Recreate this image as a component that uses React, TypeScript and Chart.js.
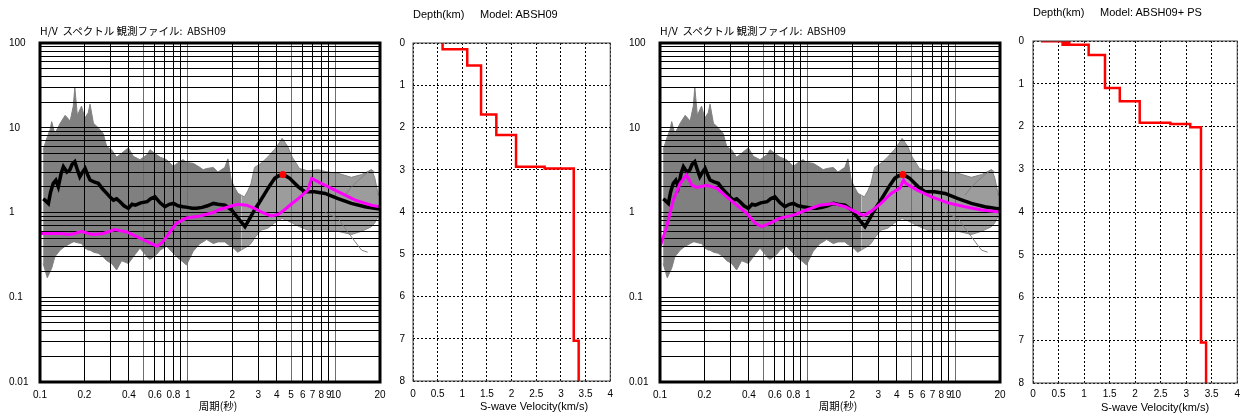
import React, { useEffect, useRef } from 'react';
import { Chart, registerables } from 'chart.js';
Chart.register(...registerables);

// ---------------- data ----------------
const periodGrid = [0.1, 0.2, 0.3, 0.4, 0.5, 0.6, 0.7, 0.8, 0.9, 1, 2, 3, 4, 5, 6, 7, 8, 9, 10, 20];
const periodLabels = [0.1, 0.2, 0.4, 0.6, 0.8, 1, 2, 3, 4, 5, 6, 7, 8, 9, 10, 20];
const periodGreyLines = [0.5, 1, 5, 10];
const ratioGrid = [
  0.01, 0.02, 0.03, 0.04, 0.05, 0.06, 0.07, 0.08, 0.09,
  0.1, 0.2, 0.3, 0.4, 0.5, 0.6, 0.7, 0.8, 0.9,
  1, 2, 3, 4, 5, 6, 7, 8, 9,
  10, 20, 30, 40, 50, 60, 70, 80, 90, 100,
];
const ratioLabels = [0.01, 0.1, 1, 10, 100];
const velocityTickLabels = ['0', '0.5', '1', '1.5', '2', '2.5', '3', '3.5', '4'];

// observed H/V (mean, black)
const obsPeriod = [0.105, 0.108, 0.114, 0.118, 0.123, 0.128, 0.133, 0.139, 0.144, 0.152, 0.159, 0.165, 0.172, 0.179, 0.186, 0.194, 0.202, 0.21, 0.218, 0.232, 0.248, 0.265, 0.283, 0.3, 0.314, 0.33, 0.348, 0.37, 0.396, 0.42, 0.442, 0.48, 0.53, 0.56, 0.6, 0.65, 0.7, 0.75, 0.8, 0.86, 0.93, 1.0, 1.07, 1.15, 1.25, 1.36, 1.49, 1.6, 1.79, 1.98, 2.2, 2.44, 2.63, 2.83, 3.08, 3.33, 3.6, 3.88, 4.1, 4.37, 4.6, 4.9, 5.25, 5.6, 6.2, 7.2, 8.5, 10.4, 12.8, 15.8, 18.4, 20];
const obsRatio = [1.45, 1.4, 1.28, 1.75, 2.21, 2.4, 2.01, 2.9, 3.47, 3.0, 3.17, 3.7, 3.98, 3.2, 2.64, 3.0, 3.32, 2.8, 2.42, 2.3, 2.21, 1.9, 1.68, 1.5, 1.4, 1.45, 1.34, 1.2, 1.12, 1.25, 1.22, 1.3, 1.34, 1.45, 1.53, 1.3, 1.17, 1.25, 1.28, 1.2, 1.17, 1.15, 1.12, 1.12, 1.15, 1.2, 1.28, 1.25, 1.22, 1.07, 0.85, 0.68, 0.85, 1.07, 1.35, 1.68, 2.1, 2.53, 2.7, 2.77, 2.7, 2.53, 2.25, 2.01, 1.76, 1.76, 1.68, 1.46, 1.28, 1.17, 1.12, 1.1];

// spread of individual observed spectra (grey band), short periods
const bandLeftPeriod = [0.105, 0.112, 0.117, 0.12, 0.126, 0.137, 0.148, 0.16, 0.168, 0.172, 0.179, 0.191, 0.201, 0.212, 0.218, 0.23, 0.248, 0.268, 0.283, 0.306, 0.33, 0.357, 0.396, 0.428, 0.475, 0.53, 0.555, 0.616, 0.65, 0.719, 0.798, 0.88, 0.93, 0.98, 1.09, 1.21, 1.27, 1.34, 1.49, 1.6, 1.78, 1.87, 1.97, 2.07, 2.18, 2.3];
const bandLeftUpper = [5.5, 7.8, 9.5, 11.8, 8.5, 11.3, 14, 12, 18, 30, 14, 18, 13, 15, 19, 11.3, 10, 8.5, 6.0, 5.47, 4.5, 5.0, 5.8, 4.6, 4.2, 4.8, 5.5, 4.8, 4.5, 4.2, 3.5, 4.0, 4.2, 3.9, 3.8, 3.4, 3.2, 3.3, 3.4, 3.0, 3.4, 4.3, 2.4, 2.0, 1.7, 1.6];
const bandLeftLower = [0.25, 0.17, 0.2, 0.22, 0.3, 0.36, 0.4, 0.43, 0.45, 0.45, 0.44, 0.43, 0.38, 0.36, 0.36, 0.34, 0.33, 0.3, 0.27, 0.25, 0.21, 0.27, 0.25, 0.3, 0.38, 0.3, 0.28, 0.32, 0.36, 0.4, 0.33, 0.28, 0.26, 0.24, 0.35, 0.43, 0.45, 0.48, 0.43, 0.45, 0.45, 0.42, 0.4, 0.37, 0.34, 0.36];
// long periods (sparser lines)
const bandRightPeriod = [2.3, 2.42, 2.55, 2.68, 2.83, 3.13, 3.47, 3.85, 4.06, 4.35, 4.75, 5.1, 5.7, 6.5, 7.6, 8.9, 10.4, 12.8, 15.0, 17.5, 18.4, 19.5];
const bandRightUpper = [1.6, 1.53, 1.8, 2.2, 3.4, 3.8, 4.5, 5.5, 6.2, 7.5, 6.0, 4.5, 3.3, 3.1, 3.2, 3.0, 2.9, 2.6, 2.8, 3.2, 2.6, 1.6];
const bandRightLower = [0.36, 0.38, 0.4, 0.43, 0.5, 0.62, 0.65, 0.75, 0.8, 0.85, 0.8, 0.75, 0.68, 0.62, 0.62, 0.62, 0.6, 0.55, 0.6, 0.68, 0.75, 0.9];
const strayPeriodA = [8.5, 10.4, 12, 13.6, 15, 16.5];
const strayRatioA = [1.0, 0.85, 0.6, 0.45, 0.36, 0.34];
const strayPeriodB = [11.6, 12.8, 14.3, 15.8, 17.5, 18.4];
const strayRatioB = [1.6, 2.0, 2.4, 2.8, 3.2, 3.0];

// theoretical H/V (magenta)
const theoryPeriodA = [0.1, 0.137, 0.159, 0.175, 0.191, 0.21, 0.229, 0.268, 0.321, 0.385, 0.475, 0.55, 0.62, 0.67, 0.72, 0.78, 0.84, 0.98, 1.21, 1.49, 1.61, 1.9, 2.18, 2.5, 2.83, 3.2, 3.67, 4.1, 4.5, 5.0, 5.6, 6.5, 6.9, 8.0, 10.4, 13.6, 17.5, 20];
const theoryRatioA = [0.566, 0.566, 0.55, 0.57, 0.6, 0.57, 0.55, 0.566, 0.63, 0.59, 0.5, 0.44, 0.4, 0.44, 0.52, 0.63, 0.75, 0.86, 0.91, 1.0, 1.07, 1.17, 1.25, 1.22, 1.12, 1.0, 0.91, 0.95, 1.07, 1.25, 1.46, 1.84, 2.53, 2.21, 1.76, 1.4, 1.22, 1.17];
const theoryPeriodB = [0.1, 0.111, 0.123, 0.137, 0.151, 0.158, 0.164, 0.177, 0.207, 0.242, 0.283, 0.33, 0.386, 0.44, 0.488, 0.556, 0.65, 0.8, 0.98, 1.21, 1.49, 1.79, 2.08, 2.39, 2.68, 3.13, 3.67, 4.2, 4.45, 4.6, 5.5, 6.9, 8.9, 11.6, 15.0, 20];
const theoryRatioB = [0.39, 0.68, 1.4, 2.21, 2.77, 2.4, 2.1, 1.98, 2.1, 1.94, 1.53, 1.22, 0.98, 0.75, 0.68, 0.75, 0.86, 0.93, 1.07, 1.22, 1.28, 1.17, 1.03, 0.92, 1.03, 1.28, 1.68, 1.94, 2.42, 2.21, 1.84, 1.53, 1.3, 1.17, 1.07, 1.01];

const peakPeriod = [4.4];
const peakRatio = [2.8];

// S-wave velocity models
const velocityA = [0.6, 1.1, 1.38, 1.69, 2.09, 2.67, 3.26, 3.36];
const layerTopA = [0, 0.15, 0.53, 1.69, 2.18, 2.93, 2.97, 7.05];
const velocityB = [0.18, 0.71, 0.58, 1.09, 1.41, 1.7, 2.09, 2.69, 3.08, 3.29, 3.39];
const layerTopB = [0, 0.005, 0.04, 0.085, 0.33, 1.1, 1.41, 1.91, 1.94, 2.02, 7.05];
const maxDepth = 8;

// ---------------- helpers ----------------
const FONT = "'Liberation Sans', Arial, sans-serif";
const JFONT = "'Noto Sans CJK JP', 'Noto Sans CJK SC', sans-serif";

const pts = (p: number[], v: number[]) => p.map((x, i) => ({ x, y: v[i] }));

function stepProfile(vs: number[], tops: number[], bottom: number) {
  const out: { x: number; y: number }[] = [];
  for (let i = 0; i < vs.length; i++) {
    const lower = i + 1 < tops.length ? tops[i + 1] : bottom;
    out.push({ x: vs[i], y: tops[i] });
    out.push({ x: vs[i], y: lower });
  }
  return out;
}

const framePlugin = (color: string, width: number) => ({
  id: 'frame',
  afterDraw(chart: any) {
    const { ctx, chartArea: a } = chart;
    ctx.save();
    ctx.strokeStyle = color;
    ctx.lineWidth = width;
    ctx.strokeRect(a.left, a.top, a.right - a.left, a.bottom - a.top);
    ctx.restore();
  },
});

const regridPlugin = (idx: number) => ({
  id: 'regrid',
  beforeDatasetDraw(chart: any, args: any) {
    if (args.index === idx) {
      chart.scales.x.drawGrid(chart.chartArea);
      chart.scales.y.drawGrid(chart.chartArea);
    }
  },
});

function hvConfig(theoryPeriod: number[], theoryRatio: number[]): any {
  const line = (data: any, extra: any) => ({
    data, showLine: true, pointRadius: 0, tension: 0, fill: false, ...extra,
  });
  return {
    type: 'scatter',
    data: {
      datasets: [
        line(pts(bandLeftPeriod, bandLeftUpper), { borderColor: '#808080', borderWidth: 1, backgroundColor: '#808080', fill: '+1', order: 10 }),
        line(pts(bandLeftPeriod, bandLeftLower), { borderColor: '#808080', borderWidth: 1, order: 9 }),
        line(pts(bandRightPeriod, bandRightUpper), { borderColor: '#858585', borderWidth: 1, backgroundColor: '#9c9c9c', fill: '+1', order: 8 }),
        line(pts(bandRightPeriod, bandRightLower), { borderColor: '#858585', borderWidth: 1, order: 7 }),
        line(pts(strayPeriodA, strayRatioA), { borderColor: '#808080', borderWidth: 1, order: 6 }),
        line(pts(strayPeriodB, strayRatioB), { borderColor: '#808080', borderWidth: 1, order: 5 }),
        line(pts(obsPeriod, obsRatio), { borderColor: '#000000', borderWidth: 3.5, order: 3 }),
        line(pts(theoryPeriod, theoryRatio), { borderColor: '#ff00ff', borderWidth: 3, order: 2 }),
        { data: pts(peakPeriod, peakRatio), showLine: false, pointRadius: 3.5, pointBackgroundColor: '#ff0000', pointBorderColor: '#ff0000', pointBorderWidth: 0, order: 1 },
      ],
    },
    options: {
      animation: false,
      responsive: false,
      devicePixelRatio: 1,
      events: [],
      layout: { padding: { left: 9, top: 43, right: 15, bottom: 0 } },
      plugins: { legend: { display: false }, tooltip: { enabled: false }, title: { display: false } },
      scales: {
        x: {
          type: 'logarithmic', min: 0.1, max: 20,
          afterBuildTicks: (s: any) => { s.ticks = periodGrid.map((value) => ({ value })); },
          afterFit: (s: any) => { s.height = 34; },
          ticks: {
            autoSkip: false, maxRotation: 0, minRotation: 0, padding: 7, color: '#000',
            font: { family: FONT, size: 10 },
            callback: (v: number) => (periodLabels.includes(v) ? String(v) : ''),
          },
          grid: {
            drawTicks: false, lineWidth: 1,
            color: (ctx: any) => (ctx.tick && periodGreyLines.includes(ctx.tick.value) ? '#6e6e6e' : '#000000'),
          },
          border: { display: false },
        },
        y: {
          type: 'logarithmic', min: 0.01, max: 100,
          afterBuildTicks: (s: any) => { s.ticks = ratioGrid.map((value) => ({ value })); },
          afterFit: (s: any) => { s.width = 31; },
          ticks: {
            autoSkip: false, crossAlign: 'far', padding: 0, color: '#000',
            font: { family: FONT, size: 10 },
            callback: (v: number) => (ratioLabels.includes(v) ? String(v) : ''),
          },
          grid: { drawTicks: false, lineWidth: 1, color: '#000000' },
          border: { display: false },
        },
      },
    },
    plugins: [regridPlugin(4), framePlugin('#000000', 3)],
  };
}

function vsConfig(vs: number[], tops: number[], g: any): any {
  return {
    type: 'scatter',
    data: {
      datasets: [
        { data: stepProfile(vs, tops, maxDepth), showLine: true, pointRadius: 0, tension: 0, borderColor: '#ff0000', borderWidth: 2.5, fill: false },
      ],
    },
    options: {
      animation: false,
      responsive: false,
      devicePixelRatio: 1,
      events: [],
      layout: { padding: { left: 0, top: g.top, right: g.right, bottom: 0 } },
      plugins: { legend: { display: false }, tooltip: { enabled: false } },
      scales: {
        x: {
          type: 'linear', min: 0, max: 4,
          afterFit: (s: any) => { s.height = g.xHeight; },
          ticks: {
            stepSize: 0.5, autoSkip: false, maxRotation: 0, padding: g.xPad, color: '#000',
            font: { family: FONT, size: 10 },
            callback: (_v: number, i: number) => velocityTickLabels[i],
          },
          grid: { drawTicks: false, lineWidth: 1, color: '#000000' },
          border: { display: false, dash: [2, 2] },
        },
        y: {
          type: 'linear', min: 0, max: maxDepth, reverse: true,
          afterFit: (s: any) => { s.width = g.yWidth; },
          ticks: { stepSize: 1, autoSkip: false, padding: g.yPad, color: '#000', font: { family: FONT, size: 10 } },
          grid: { drawTicks: false, lineWidth: 1, color: '#000000' },
          border: { display: false, dash: [2, 2] },
        },
      },
    },
    plugins: [framePlugin('#404040', 1)],
  };
}

function ChartCanvas({ left, width, make }: { left: number; width: number; make: () => any }) {
  const ref = useRef<HTMLCanvasElement | null>(null);
  useEffect(() => {
    const chart = new Chart(ref.current as HTMLCanvasElement, make());
    return () => chart.destroy();
  }, []);
  return (
    <canvas
      ref={ref}
      width={width}
      height={416}
      style={{ position: 'absolute', left, top: 0, width, height: 416 }}
    />
  );
}

function Text({ x, y, children, center, family, size }: any) {
  return (
    <div
      style={{
        position: 'absolute',
        left: x,
        top: y - 7,
        height: 14,
        lineHeight: '14px',
        fontSize: size || 11,
        fontFamily: family || FONT,
        whiteSpace: 'pre',
        color: '#000',
        transform: center ? 'translateX(-50%)' : undefined,
      }}
    >
      {children}
    </div>
  );
}

export default function App() {
  return (
    <div style={{ position: 'absolute', left: 0, top: 0, width: 1245, height: 416, background: '#fff', overflow: 'hidden' }}>
      <ChartCanvas left={0} width={395} make={() => hvConfig(theoryPeriodA, theoryRatioA)} />
      <ChartCanvas left={395} width={225} make={() => vsConfig(velocityA, layerTopA, { top: 43, right: 3, xHeight: 35, yWidth: 18, yPad: 8, xPad: 7 })} />
      <ChartCanvas left={620} width={395} make={() => hvConfig(theoryPeriodB, theoryRatioB)} />
      <ChartCanvas left={1010} width={235} make={() => vsConfig(velocityB, layerTopB, { top: 41, right: 6, xHeight: 33, yWidth: 23, yPad: 9, xPad: 5 })} />

      <Text x={40} y={31} family={JFONT} size={10.5}>{'H/V  スペクトル 観測ファイル:  ABSH09'}</Text>
      <Text x={660} y={31} family={JFONT} size={10.5}>{'H/V  スペクトル 観測ファイル:  ABSH09'}</Text>
      <Text x={218} y={406} center family={JFONT} size={10.5}>{'周期(秒)'}</Text>
      <Text x={838} y={406} center family={JFONT} size={10.5}>{'周期(秒)'}</Text>

      <Text x={413} y={14}>{'Depth(km)'}</Text>
      <Text x={480} y={14}>{'Model: ABSH09'}</Text>
      <Text x={534} y={406} center>{'S-wave Velocity(km/s)'}</Text>

      <Text x={1033} y={12}>{'Depth(km)'}</Text>
      <Text x={1100} y={12}>{'Model: ABSH09+ PS'}</Text>
      <Text x={1155} y={407} center>{'S-wave Velocity(km/s)'}</Text>
    </div>
  );
}
